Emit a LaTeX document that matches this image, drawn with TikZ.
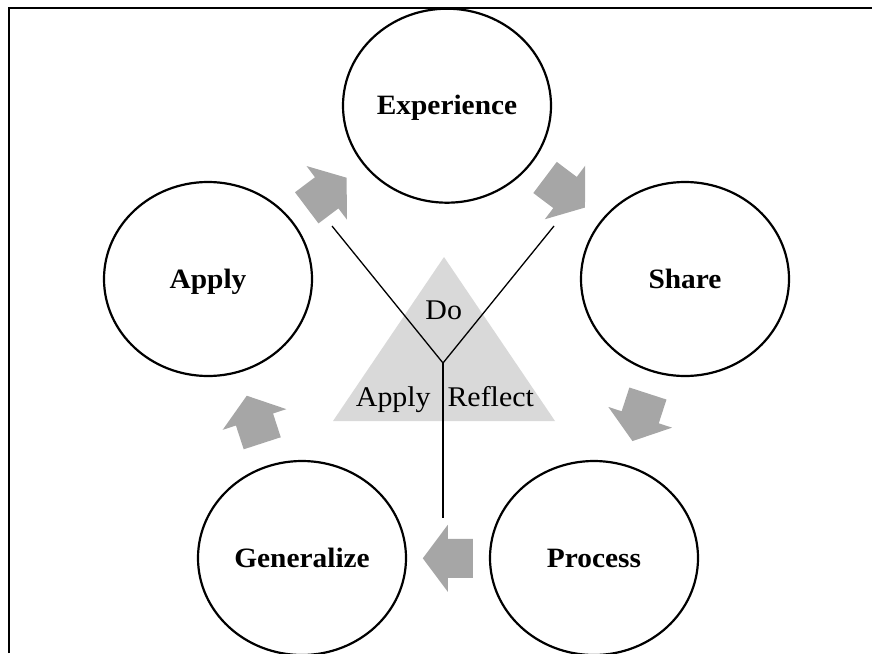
\documentclass[tikz,border=0pt]{standalone}
\usepackage{fontspec}
\setmainfont[FakeStretch=1.05]{Liberation Serif}
\usetikzlibrary{shapes.geometric}
\definecolor{arrowgray}{HTML}{A6A6A6}
\definecolor{trigray}{HTML}{D9D9D9}
\tikzset{
  stage/.style={ellipse, draw=black, line width=2.2pt, minimum width=208pt, minimum height=194pt,
    inner sep=0pt, font=\fontsize{28}{32}\selectfont\bfseries, text height=22pt, text depth=4pt},
  trilabel/.style={anchor=base, inner sep=0pt, font=\fontsize{28.5}{32}\selectfont},
  yline/.style={draw=black, line width=1.3pt},
  frameline/.style={draw=black, line width=2pt},
  blockarrow/.pic={\fill[arrowgray] (-25,-19.5) -- (0,-19.5) -- (0,-33.5) -- (25,0) -- (0,33.5) -- (0,19.5) -- (-25,19.5) -- cycle;}
}
\begin{document}
\begin{tikzpicture}[x=1pt,y=-1pt]
\useasboundingbox (0,0) rectangle (872,653);
% frame
\draw[frameline] (9,653) -- (9,8) -- (872,8);
% triangle
\coordinate (tA) at (444,257);
\coordinate (tR) at (555,421);
\coordinate (tL) at (333,421);
\fill[trigray] (tA) -- (tR) -- (tL) -- cycle;
% Y lines
\coordinate (yj) at (443,363);
\coordinate (yl) at (332,226);
\coordinate (yr) at (554,226);
\coordinate (yb) at (443,518);
\draw[yline] (yl) -- (yj) -- (yr);
\draw[yline] (yj) -- (yb);
% triangle labels
\node[trilabel] (do) at (443.7,319.3) {Do};
\node[trilabel] (tapply) at (393.3,406) {Apply};
\node[trilabel] (reflect) at (490.7,406) {Reflect};
% stages
\node[stage] (exp) at (447,105.7) {Experience};
\node[stage] (share) at (685,279) {Share};
\node[stage] (proc) at (594,558) {Process};
\node[stage] (gen) at (302,558) {Generalize};
\node[stage] (apply) at (208,279) {Apply};
% block arrows
\pic[rotate=37] at (326.7,192.8) {blockarrow};
\pic[rotate=-37] at (565,192.5) {blockarrow};
\pic[rotate=-108] at (640.2,417.3) {blockarrow};
\pic[rotate=180] at (447.8,558.3) {blockarrow};
\pic[rotate=108] at (254.5,419.5) {blockarrow};
\end{tikzpicture}
\end{document}
